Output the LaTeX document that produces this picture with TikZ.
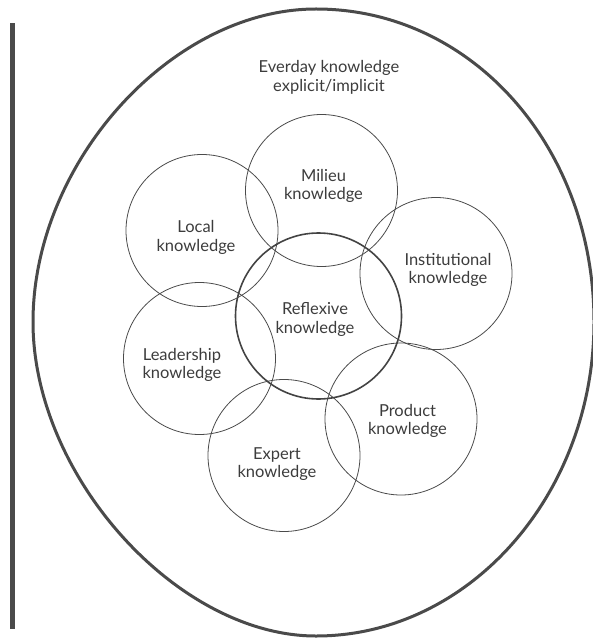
\documentclass[tikz,border=0pt]{standalone}
\usepackage{fontspec}
\setmainfont{Lato}
\definecolor{inkline}{HTML}{4A4A4A}
\definecolor{inktext}{HTML}{3C3C3C}
\begin{document}
\begin{tikzpicture}[x=1pt,y=-1pt,
  knode/.style={circle,draw=inkline,line width=0.8pt,minimum size=152pt,inner sep=0pt},
  ktext/.style={align=center,text=inktext,font=\fontsize{16.5}{18.8}\selectfont,inner sep=0pt}]
\useasboundingbox (0,0) rectangle (593,644);
% left bar
\fill[inkline] (10,23) rectangle (15,629);
% outer egg-shaped outline
\draw[inkline,line width=3pt]
  (316,9) .. controls (471.7,9) and (594,146.7) .. (594,322)
  .. controls (594,494.7) and (468.9,636) .. (316,636)
  .. controls (177.3,636) and (33,475.9) .. (33,322)
  .. controls (33,162.4) and (171.7,9) .. (316,9) -- cycle;
% circles
\node[knode] (milieu) at (321.5,190.5) {};
\node[knode] (local) at (202,230.5) {};
\node[knode] (inst) at (436,273.5) {};
\node[knode] (lead) at (199.5,358.5) {};
\node[knode] (prod) at (401,419) {};
\node[knode] (expert) at (284,455.5) {};
\node[circle,draw=inkline!90!black,line width=1.6pt,minimum size=166pt,inner sep=0pt] (reflex) at (318.5,316) {};
% texts
\node[ktext] (tevery) at (329,77.5) {Everday knowledge\\explicit/implicit};
\node[ktext] (tmilieu) at (323.5,186) {Milieu\\knowledge};
\node[ktext] (tlocal) at (196,237.5) {Local\\knowledge};
\node[ktext] (tinst) at (448,270) {Institutional\\knowledge};
\node[ktext] (treflex) at (315,319.5) {Reflexive\\knowledge};
\node[ktext] (tlead) at (182,365) {Leadership\\knowledge};
\node[ktext] (tprod) at (407.5,421) {Product\\knowledge};
\node[ktext] (texpert) at (277,464) {Expert\\knowledge};
\end{tikzpicture}
\end{document}
